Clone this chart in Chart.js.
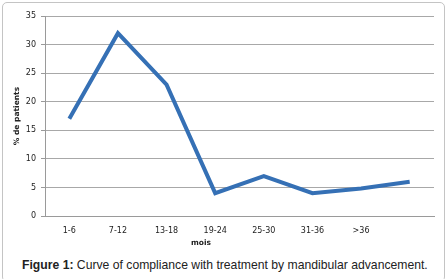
<!DOCTYPE html>
<html>
<head>
<meta charset="utf-8">
<script src="https://cdn.jsdelivr.net/npm/chart.js@4"></script>
<style>
  html, body { margin: 0; padding: 0; background: #fff; }
  #wrap { position: relative; width: 448px; height: 279px; overflow: hidden; }
  #frame {
    position: absolute; left: 2px; top: 2px; width: 443px; height: 280px;
    border: 1px solid #c4c4c4; border-radius: 5px; box-sizing: border-box;
  }
  #chart { position: absolute; left: 0; top: 0; }
  #caption {
    position: absolute; left: 22px; top: 258px;
    font: 12.2px "Liberation Sans", Arial, sans-serif; color: #222; white-space: nowrap;
  }
  #caption b { font-weight: bold; }
</style>
</head>
<body>
<div id="wrap">
  <div id="frame"></div>
  <canvas id="chart" width="448" height="250"></canvas>
  <div id="caption"><b>Figure 1:</b> Curve of compliance with treatment by mandibular advancement.</div>
</div>
<script>
// categories (last point has no label in the original)
const categories = ['1-6', '7-12', '13-18', '19-24', '25-30', '31-36', '>36', ''];
const patientPct = [17, 32, 23, 4, 7, 4, 4.8, 6];
const yTicks = [0, 5, 10, 15, 20, 25, 30, 35];

const xTitle = 'mois';
const yTitle = '% de patients';

const tickFont = { family: 'DejaVu Sans', size: 8 };

// axis titles drawn at the positions they have in the figure
const axisTitles = {
  id: 'axisTitles',
  afterDraw(chart) {
    const ctx = chart.ctx;
    ctx.save();
    ctx.fillStyle = '#222';
    ctx.font = 'bold 7.5px "DejaVu Sans"';
    ctx.textAlign = 'center';
    ctx.textBaseline = 'middle';
    ctx.fillText(xTitle, 201, 243);
    ctx.translate(17, 116);
    ctx.rotate(-Math.PI / 2);
    ctx.fillText(yTitle, 0, 0);
    ctx.restore();
  }
};

new Chart(document.getElementById('chart'), {
  type: 'line',
  data: {
    labels: categories,
    datasets: [{
      data: patientPct,
      borderColor: '#3570b5',
      borderWidth: 4,
      pointRadius: 0,
      tension: 0,
      fill: false
    }]
  },
  options: {
    responsive: false,
    animation: false,
    plugins: { legend: { display: false }, tooltip: { enabled: false } },
    layout: { padding: { top: 16, right: 14, bottom: 0, left: 0 } },
    scales: {
      x: {
        offset: true,
        grid: { display: false, drawTicks: false },
        border: { display: true, color: '#9a9a9a' },
        ticks: { font: tickFont, color: '#222', padding: 10, maxRotation: 0, autoSkip: false },
        afterFit(scale) { scale.height = 34; }
      },
      y: {
        min: 0,
        max: 35,
        afterBuildTicks(scale) { scale.ticks = yTicks.map(v => ({ value: v })); },
        grid: { color: '#a8a8a8', tickLength: 4, tickColor: '#9a9a9a' },
        border: { display: true, color: '#9a9a9a' },
        ticks: { font: tickFont, color: '#222', padding: 5 },
        afterFit(scale) { scale.width = 45; }
      }
    }
  },
  plugins: [axisTitles]
});
</script>
</body>
</html>
